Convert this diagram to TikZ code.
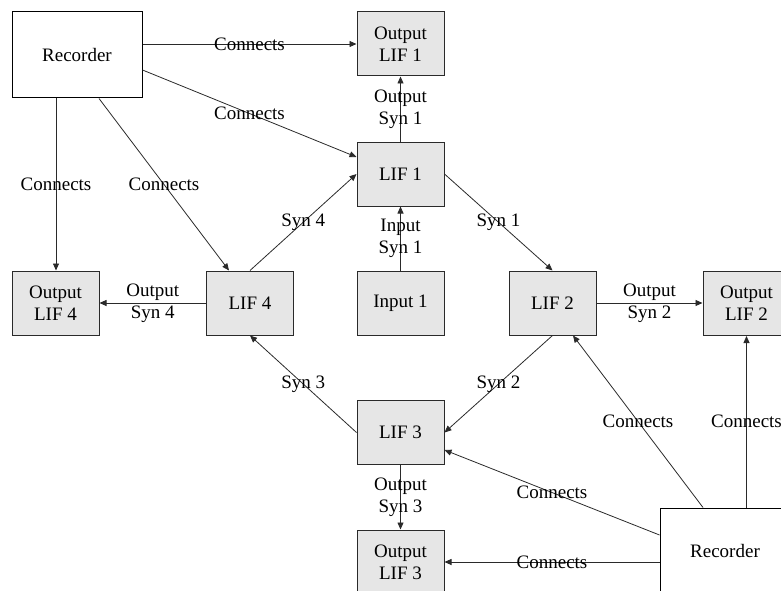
\documentclass[tikz,border=0pt]{standalone}
\usepackage{fontspec}
\setmainfont{Liberation Serif}
\usetikzlibrary{arrows.meta}
\definecolor{boxfill}{HTML}{E6E6E6}
\definecolor{edge}{HTML}{2A2A2A}
\tikzset{
  lif/.style={draw=edge, line width=1pt, fill=boxfill, minimum width=87pt, minimum height=64pt, inner sep=0pt, align=center, font=\fontsize{19}{22}\selectfont},
  rec/.style={draw=black, line width=1pt, fill=white, minimum width=130pt, minimum height=86pt, inner sep=0pt, align=center, font=\fontsize{19}{22}\selectfont},
  conn/.style={draw=edge, line width=0.8pt, -{Triangle[length=7pt,width=6pt]}},
  lbl/.style={midway, inner sep=0pt, align=center, text=black, font=\fontsize{19}{22}\selectfont}
}
\begin{document}
\begin{tikzpicture}[x=1pt,y=-1pt]
\useasboundingbox (0,0) rectangle (781,591);
\clip (0,0) rectangle (781,591);
% nodes
\node[rec] (rec1) at (77,55) {Recorder};
\node[rec] (rec2) at (725,551) {Recorder};
\node[lif] (olif1) at (400.5,44) {Output\\LIF 1};
\node[lif] (lif1) at (400.5,174) {LIF 1};
\node[lif] (in1) at (400.5,303) {Input 1};
\node[lif] (lif2) at (552.5,303) {LIF 2};
\node[lif] (olif2) at (746.5,303.5) {Output\\LIF 2};
\node[lif] (lif4) at (250,303) {LIF 4};
\node[lif] (olif4) at (55.5,303) {Output\\LIF 4};
\node[lif] (lif3) at (400.5,432.5) {LIF 3};
\node[lif] (olif3) at (400.5,562) {Output\\LIF 3};
% recorder 1 connections
\draw[conn] (rec1.east |- 0,44) -- (olif1.west |- 0,44) node[lbl] {Connects};
\draw[conn] (rec1.east |- 0,70) -- (lif1.west |- 0,157) node[lbl] {Connects};
\draw[conn] (rec1.south -| 56,0) -- (olif4.north -| 56,0) node[lbl] {Connects};
\draw[conn] (rec1.south -| 99,0) -- (lif4.north -| 229,0) node[lbl] {Connects};
% synapses
\draw[conn] (lif4.north) -- (lif1.west) node[lbl] {Syn 4};
\draw[conn] (in1.north) -- (lif1.south) node[lbl] {Input\\Syn 1};
\draw[conn] (lif1.north) -- (olif1.south) node[lbl] {Output\\Syn 1};
\draw[conn] (lif1.east) -- (lif2.north) node[lbl] {Syn 1};
\draw[conn] (lif2.east) -- (olif2.west |- lif2.east) node[lbl] {Output\\Syn 2};
\draw[conn] (lif4.west) -- (olif4.east) node[lbl] {Output\\Syn 4};
\draw[conn] (lif2.south) -- (lif3.east) node[lbl] {Syn 2};
\draw[conn] (lif3.west) -- (lif4.south) node[lbl] {Syn 3};
\draw[conn] (lif3.south) -- (olif3.north) node[lbl] {Output\\Syn 3};
% recorder 2 connections
\draw[conn] (rec2.west |- 0,535) -- (lif3.east |- 0,450) node[lbl] {Connects};
\draw[conn] (rec2.west |- 0,562) -- (olif3.east |- 0,562) node[lbl] {Connects};
\draw[conn] (rec2.north -| 703,0) -- (lif2.south -| 573,0) node[lbl] {Connects};
\draw[conn] (rec2.north -| 746.5,0) -- (olif2.south) node[lbl] {Connects};
\end{tikzpicture}
\end{document}
